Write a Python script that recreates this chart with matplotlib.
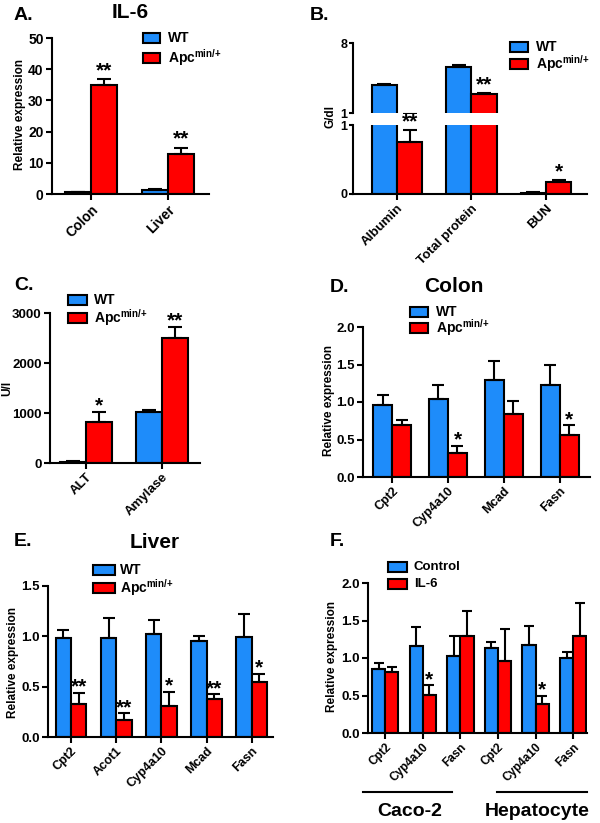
import matplotlib
matplotlib.use("Agg")
import matplotlib.pyplot as plt
import numpy as np
from matplotlib.patches import Rectangle
from matplotlib.lines import Line2D

plt.rcParams["font.family"] = ["Liberation Sans", "DejaVu Sans"]
plt.rcParams["font.weight"] = "bold"
plt.rcParams["mathtext.fontset"] = "custom"
plt.rcParams["mathtext.rm"] = "Liberation Sans:bold"
plt.rcParams["mathtext.bf"] = "Liberation Sans:bold"

BLUE = "#1E8CFA"
RED = "#FF0000"
W, H = 600, 823

# A. IL-6
a_cats = ["Colon", "Liver"]
a_wt = [0.6, 1.2]
a_wt_err = [0.15, 0.3]
a_apc = [35.0, 12.7]
a_apc_err = [1.8, 2.2]
a_sig = ["**", "**"]

# B. serum protein
b_cats = ["Albumin", "Total protein", "BUN"]
b_wt = [3.8, 5.63, 0.02]
b_wt_err = [0.15, 0.2, 0.005]
b_apc = [0.75, 2.87, 0.17]
b_apc_err = [0.18, 0.13, 0.03]
b_sig = ["**", "**", "*"]

# C. enzymes
c_cats = ["ALT", "Amylase"]
c_wt = [30, 1020]
c_wt_err = [10, 50]
c_apc = [830, 2500]
c_apc_err = [200, 230]
c_sig = ["*", "**"]

# D. colon
d_cats = ["Cpt2", "Cyp4a10", "Mcad", "Fasn"]
d_wt = [0.96, 1.04, 1.30, 1.23]
d_wt_err = [0.14, 0.19, 0.25, 0.27]
d_apc = [0.70, 0.32, 0.845, 0.555]
d_apc_err = [0.055, 0.10, 0.17, 0.135]
d_sig = ["", "*", "", "*"]

# E. liver
e_cats = ["Cpt2", "Acot1", "Cyp4a10", "Mcad", "Fasn"]
e_wt = [0.98, 0.98, 1.02, 0.95, 0.99]
e_wt_err = [0.08, 0.20, 0.14, 0.05, 0.23]
e_apc = [0.33, 0.17, 0.31, 0.375, 0.55]
e_apc_err = [0.11, 0.065, 0.14, 0.05, 0.08]
e_sig = ["**", "**", "*", "**", "*"]

# F. cell lines
f_cats = ["Cpt2", "Cyp4a10", "Fasn", "Cpt2", "Cyp4a10", "Fasn"]
f_ctrl = [0.85, 1.155, 1.03, 1.13, 1.18, 1.0]
f_ctrl_err = [0.08, 0.255, 0.26, 0.09, 0.25, 0.08]
f_il6 = [0.82, 0.51, 1.30, 0.965, 0.39, 1.30]
f_il6_err = [0.055, 0.13, 0.33, 0.425, 0.11, 0.44]
f_sig = ["", "*", "", "", "*", ""]


def px_axes(fig, x0, x1, ytop, ybot):
    ax = fig.add_axes([x0 / W, 1 - ybot / H, (x1 - x0) / W, (ybot - ytop) / H])
    ax.set_facecolor("none")
    ax.spines[["top", "right"]].set_visible(False)
    for s in ("left", "bottom"):
        ax.spines[s].set_linewidth(1.5)
    ax.tick_params(direction="out", length=4, width=1.5, labelsize=9.5, pad=2)
    return ax


def ftext(fig, x, y, s, **kw):
    kw.setdefault("va", "center")
    fig.text(x / W, 1 - y / H, s, fontweight="bold", **kw)


def legend(fig, x0, x1, ys, labels, tx, size=10):
    for y, lab, col in zip(ys, labels, [BLUE, RED]):
        fig.add_artist(Rectangle((x0 / W, 1 - (y + 5) / H), (x1 - x0) / W, 10 / H,
                                 transform=fig.transFigure, facecolor=col,
                                 edgecolor="black", linewidth=1.5))
        ftext(fig, tx, y, lab, fontsize=size)


def grouped(ax, wt, wt_err, apc, apc_err, sig, w=0.34, cap=4.5, star=15, off=4):
    x = np.arange(len(wt))
    ax.bar(x - w / 2, wt, w, color=BLUE, edgecolor="black", linewidth=1.5)
    ax.bar(x + w / 2, apc, w, color=RED, edgecolor="black", linewidth=1.5)
    for xs, v, e in ((x - w / 2, wt, wt_err), (x + w / 2, apc, apc_err)):
        ax.errorbar(xs, v, yerr=[np.zeros(len(v)), e], fmt="none", ecolor="black",
                    elinewidth=1.5, capsize=cap, capthick=1.5, zorder=1)
    for xi, v, e, s in zip(x + w / 2, apc, apc_err, sig):
        if s:
            ax.annotate(s, (xi, v + e), xytext=(0, off), textcoords="offset points",
                        ha="center", va="center", fontsize=star, fontweight="bold",
                        annotation_clip=False)
    return x


def xlabels(ax, x, cats, size=9.5):
    ax.set_xticks(x)
    ax.set_xticklabels(cats, rotation=45, ha="right", rotation_mode="anchor", fontsize=size)


fig = plt.figure(figsize=(W / 100, H / 100), dpi=100)
APC = r"Apc$^{\mathbf{min/{+}}}$"

# ---- A
ax = px_axes(fig, 52, 209, 38, 194)
x = grouped(ax, a_wt, a_wt_err, a_apc, a_apc_err, a_sig, cap=5, off=6)
ax.set_xlim(-0.51, 1.53)
ax.set_ylim(0, 50)
ax.set_yticks([0, 10, 20, 30, 40, 50])
ax.tick_params(labelsize=10)
xlabels(ax, x, a_cats, 10)
ftext(fig, 14, 15, "A.", fontsize=14)
ftext(fig, 130, 13, "IL-6", fontsize=15, ha="center")
ftext(fig, 20, 115, "Relative expression", fontsize=8.5, rotation=90, ha="center")
legend(fig, 143, 160, [38, 58], ["WT", APC], 168)

# ---- B (broken axis)
axu = px_axes(fig, 353, 587, 43, 113)
axl = px_axes(fig, 353, 587, 125, 194)
for a in (axu, axl):
    grouped(a, b_wt, b_wt_err, b_apc, b_apc_err, [""] * 3, cap=5)
    a.set_xlim(-0.59, 2.55)
    a.tick_params(axis="y", length=3, pad=1, labelsize=9)
xb = np.arange(len(b_cats))
for xi, v, e, s in zip(xb + 0.17, b_apc, b_apc_err, b_sig):
    target = axl if v + e < 1 else axu
    target.annotate(s, (xi, v + e), xytext=(0, 6), textcoords="offset points",
                    ha="center", va="center", fontsize=15, fontweight="bold",
                    annotation_clip=False)
axu.set_ylim(1, 8)
axu.set_yticks([1, 8])
axu.spines["bottom"].set_visible(False)
axu.tick_params(axis="x", bottom=False, labelbottom=False)
axl.set_ylim(0, 1)
axl.set_yticks([0, 1])
xlabels(axl, xb, b_cats)
ftext(fig, 310, 15, "B.", fontsize=14)
ftext(fig, 330, 117, "G/dl", fontsize=8.5, rotation=90, ha="center")
legend(fig, 510, 528, [47, 64], ["WT", APC], 536)

# ---- C
ax = px_axes(fig, 50, 200, 313, 463)
x = grouped(ax, c_wt, c_wt_err, c_apc, c_apc_err, c_sig, cap=5)
ax.set_xlim(-0.47, 1.5)
ax.set_ylim(0, 3000)
ax.set_yticks([0, 1000, 2000, 3000])
xlabels(ax, x, c_cats)
ftext(fig, 14, 285, "C.", fontsize=14)
ftext(fig, 7, 388, "U/l", fontsize=8.5, rotation=90, ha="center")
legend(fig, 68, 87, [300, 318], ["WT", APC], 94)

# ---- D
ax = px_axes(fig, 363, 590, 327, 477)
x = grouped(ax, d_wt, d_wt_err, d_apc, d_apc_err, d_sig)
ax.set_xlim(-0.52, 3.54)
ax.set_ylim(0, 2)
ax.set_yticks([0, 0.5, 1.0, 1.5, 2.0])
ax.set_yticklabels(["0.0", "0.5", "1.0", "1.5", "2.0"])
xlabels(ax, x, d_cats, 9)
ftext(fig, 330, 288, "D.", fontsize=14)
ftext(fig, 454, 287, "Colon", fontsize=15, ha="center")
ftext(fig, 329, 400, "Relative expression", fontsize=8.5, rotation=90, ha="center")
legend(fig, 410, 428, [312, 328], ["WT", APC], 436)

# ---- E
ax = px_axes(fig, 48, 273, 586, 737)
x = grouped(ax, e_wt, e_wt_err, e_apc, e_apc_err, e_sig, cap=4)
ax.set_xlim(-0.51, 4.47)
ax.set_ylim(0, 1.5)
ax.set_yticks([0, 0.5, 1.0, 1.5])
ax.set_yticklabels(["0.0", "0.5", "1.0", "1.5"])
xlabels(ax, x, e_cats, 9)
ftext(fig, 14, 542, "E.", fontsize=14)
ftext(fig, 155, 543, "Liver", fontsize=15, ha="center")
ftext(fig, 13, 662, "Relative expression", fontsize=8.5, rotation=90, ha="center")
legend(fig, 93, 115, [570, 588], ["WT", APC], 120)

# ---- F
ax = px_axes(fig, 368, 587, 583, 733)
x = grouped(ax, f_ctrl, f_ctrl_err, f_il6, f_il6_err, f_sig, w=0.35, cap=3.5)
ax.set_xlim(-0.46, 5.37)
ax.set_ylim(0, 2)
ax.set_yticks([0, 0.5, 1.0, 1.5, 2.0])
ax.set_yticklabels(["0.0", "0.5", "1.0", "1.5", "2.0"])
xlabels(ax, x, f_cats, 8.5)
ftext(fig, 330, 542, "F.", fontsize=14)
ftext(fig, 332, 657, "Relative expression", fontsize=8.5, rotation=90, ha="center")
legend(fig, 388, 407, [567, 584], ["Control", "IL-6"], 414, 9.5)
for x0, x1 in ((363, 452), (497, 587)):
    fig.add_artist(Line2D([x0 / W, x1 / W], [1 - 792 / H] * 2, transform=fig.transFigure,
                          color="black", linewidth=1.5))
ftext(fig, 410, 812, "Caco-2", fontsize=14, ha="center")
ftext(fig, 485, 812, "Hepatocyte", fontsize=14, ha="left")

fig.savefig("out.png", dpi=100)
